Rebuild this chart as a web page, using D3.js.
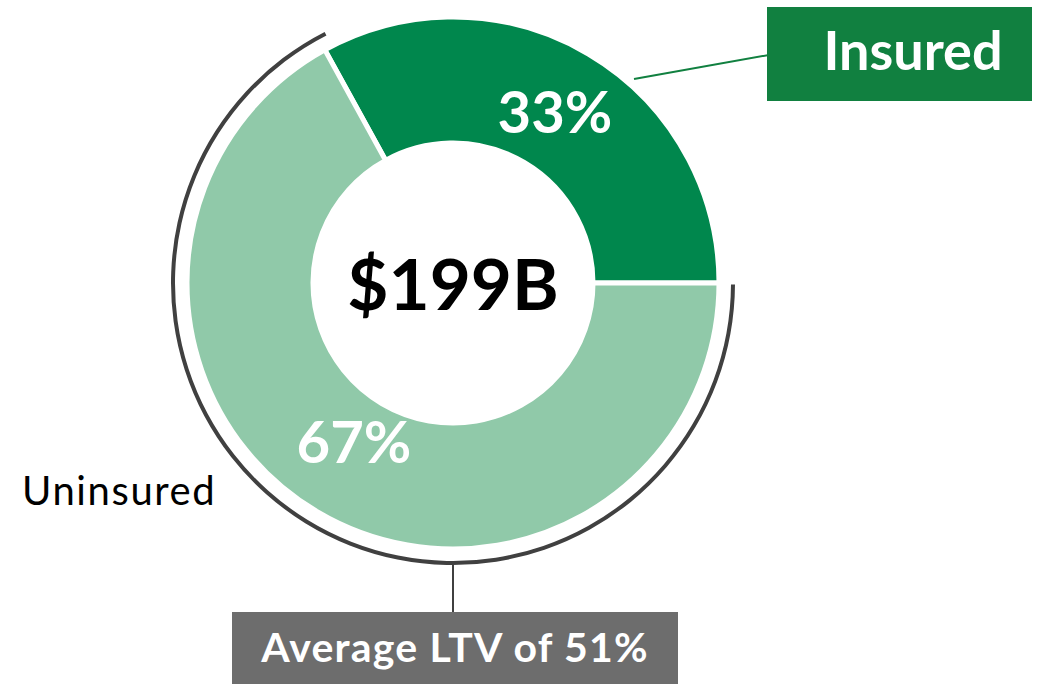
<!DOCTYPE html>
<html>
<head>
<meta charset="utf-8">
<script src="https://cdn.jsdelivr.net/npm/d3@7"></script>
<style>
  html, body { margin: 0; padding: 0; background: #fff; }
  svg { display: block; font-family: Lato, "Open Sans", sans-serif; }
</style>
</head>
<body>
<svg id="chart" width="1048" height="684"></svg>
<script>
// chart data
const categories = ["Insured", "Uninsured"];
const shares = [33, 67];
const shareLabels = ["33%", "67%"];
const totalLabel = "$199B";
const ltvLabel = "Average LTV of 51%";

const colors = {
  Insured: "#00874d",
  Uninsured: "#90c9a9"
};

const svg = d3.select("#chart");
const cx = 453, cy = 283;
const outerR = 266, innerR = 140;

const g = svg.append("g").attr("transform", `translate(${cx},${cy})`);

// insured starts at 3 o'clock and runs counter-clockwise
const pie = d3.pie()
  .sort(null)
  .value(d => d.value)
  .startAngle(Math.PI / 2)
  .endAngle(Math.PI / 2 - 2 * Math.PI);

const data = categories.map((c, i) => ({ name: c, value: shares[i], label: shareLabels[i] }));
const arcs = pie(data);

const arc = d3.arc().innerRadius(innerR).outerRadius(outerR);

g.selectAll("path.slice")
  .data(arcs)
  .enter()
  .append("path")
  .attr("class", "slice")
  .attr("d", arc)
  .attr("fill", d => colors[d.data.name])
  .attr("stroke", "#fff")
  .attr("stroke-width", 5);

// bracket arc around the uninsured slice
const unins = arcs[1];
const bracket = d3.arc()
  .innerRadius(278)
  .outerRadius(282)
  .startAngle(unins.endAngle + 0.005)
  .endAngle(unins.startAngle + 0.03);

g.append("path")
  .attr("d", bracket())
  .attr("fill", "#404040");

// percent labels
const labelPos = [[102, -150], [-99, 180]];
g.selectAll("text.pct")
  .data(arcs)
  .enter()
  .append("text")
  .attr("class", "pct")
  .attr("x", (d, i) => labelPos[i][0])
  .attr("y", (d, i) => labelPos[i][1])
  .attr("text-anchor", "middle")
  .attr("fill", "#fff")
  .attr("font-weight", "bold")
  .attr("font-size", 58)
  .text(d => d.data.label);

// total in the middle
g.append("text")
  .attr("x", 0)
  .attr("y", 27)
  .attr("text-anchor", "middle")
  .attr("font-weight", "bold")
  .attr("font-size", 71)
  .attr("fill", "#000")
  .text(totalLabel);

// insured callout
svg.append("line")
  .attr("x1", 634).attr("y1", 79)
  .attr("x2", 780).attr("y2", 53)
  .attr("stroke", "#118040")
  .attr("stroke-width", 2);

svg.append("rect")
  .attr("x", 767).attr("y", 7)
  .attr("width", 265).attr("height", 94)
  .attr("fill", "#118040");

svg.append("text")
  .attr("x", 913).attr("y", 70)
  .attr("text-anchor", "middle")
  .attr("fill", "#fff")
  .attr("font-weight", "bold")
  .attr("font-size", 54)
  .text(categories[0]);

// uninsured label
svg.append("text")
  .attr("x", 22).attr("y", 505)
  .attr("fill", "#000")
  .attr("font-size", 40)
  .attr("letter-spacing", 1.6)
  .text(categories[1]);

// LTV callout
svg.append("line")
  .attr("x1", cx).attr("y1", cy + 280)
  .attr("x2", cx).attr("y2", 612)
  .attr("stroke", "#404040")
  .attr("stroke-width", 2);

svg.append("rect")
  .attr("x", 232).attr("y", 612)
  .attr("width", 446).attr("height", 72)
  .attr("fill", "#6d6d6d");

svg.append("text")
  .attr("x", 455).attr("y", 662)
  .attr("text-anchor", "middle")
  .attr("fill", "#fff")
  .attr("font-weight", "bold")
  .attr("font-size", 41)
  .attr("letter-spacing", 1.2)
  .text(ltvLabel);
</script>
</body>
</html>
